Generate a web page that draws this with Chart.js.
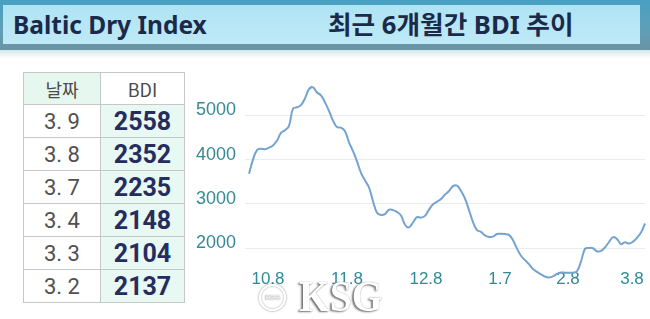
<!DOCTYPE html>
<html>
<head>
<meta charset="utf-8">
<script src="https://cdn.jsdelivr.net/npm/chart.js@4"></script>
<style>
  html, body { margin: 0; padding: 0; background: #fff; }
  #page { position: relative; width: 650px; height: 319px; overflow: hidden; background: #fff; }
  #band { position: absolute; left: 0; top: 0; width: 650px; height: 50px;
          background: linear-gradient(#48a0c2, #5f9fb8 60%, #6b93a3); }
  #panel { position: absolute; left: 3px; top: 5px; width: 637px; height: 39px;
           background: linear-gradient(#aee4f4, #bfe9f6); }
  #shade { position: absolute; left: 0; top: 50px; width: 650px; height: 8px;
           background: linear-gradient(#d3e6ea, rgba(255,255,255,0)); }
  .ttl { position: absolute; top: 9px; font-family: "Noto Sans", "Noto Sans CJK KR", sans-serif;
         font-weight: bold; font-size: 25px; line-height: 30px; color: #1c2a4a;
         transform-origin: 0 50%; white-space: nowrap; }
  #tbl { position: absolute; left: 23px; top: 72px; border-collapse: collapse; }
  #tbl td { border: 1px solid #c4c8c8; padding: 0; text-align: center; }
  #tbl .hd { height: 31px; font-family: "Noto Sans CJK KR", sans-serif; font-size: 18px; color: #4a4a4a; }
  #tbl .dt { height: 32px; font-family: Roboto, sans-serif; font-size: 22px; color: #505050; background: #fff; }
  #tbl .bv { font-family: Roboto, sans-serif; font-weight: bold; font-size: 25px; color: #262d5e; background: #e8f8f2; }
  #wrap { position: absolute; left: 190px; top: 60px; width: 460px; height: 259px; }
  #ksg { position: absolute; left: 299px; top: 275px; font-family: "Liberation Serif", serif; font-weight: bold;
         font-size: 44px; line-height: 44px; color: #fff; transform: scaleX(0.9); transform-origin: 0 50%;
         text-shadow: -2px 1px 2px rgba(70,70,70,.75), 0 0 1px rgba(60,60,60,.6); }
  #logo { position: absolute; left: 259px; top: 284px; width: 23px; height: 23px; border-radius: 50%;
          border: 2px solid #fff; box-shadow: 0 0 2px rgba(0,0,0,.6), inset 0 0 2px rgba(0,0,0,.45);
          font: bold 7px sans-serif; color: #fff; text-align: center; line-height: 23px; text-shadow: 0 0 1px #444; }
</style>
</head>
<body>
<div id="page">
  <div id="band"></div>
  <div id="panel"></div>
  <div id="shade"></div>
  <div class="ttl" id="t1" style="left:13px">Baltic Dry Index</div>
  <div class="ttl" id="t2" style="left:328px">최근 6개월간 BDI 추이</div>
  <table id="tbl"></table>
  <div id="wrap"><canvas id="bdiChart"></canvas></div>
  <div id="logo">KSG</div>
  <div id="ksg">KSG</div>
</div>
<script>
// recent values shown in the table
const tableDates = ['3. 9', '3. 8', '3. 7', '3. 4', '3. 3', '3. 2'];
const tableValues = [2558, 2352, 2235, 2148, 2104, 2137];

// BDI daily values (about 6 months, oldest first)
const bdiValues = [
  3680, 4000, 4215, 4245, 4235, 4270, 4320, 4430, 4600, 4660,
  4760, 5150, 5180, 5230, 5380, 5590, 5630, 5515, 5450, 5290,
  5100, 4880, 4735, 4720, 4640, 4390, 4190, 3960, 3700, 3530,
  3370, 3060, 2800, 2750, 2770, 2870, 2860, 2820, 2740, 2530,
  2470, 2580, 2700, 2690, 2730, 2870, 2990, 3050, 3110, 3210,
  3290, 3400, 3410, 3290, 3120, 2860, 2590, 2410, 2370, 2290,
  2255, 2260, 2320, 2325, 2320, 2300, 2180, 1990, 1830, 1730,
  1640, 1530, 1465, 1410, 1360, 1340, 1365, 1420, 1450, 1447,
  1447, 1447, 1480, 1700, 1985, 2005, 2000, 1930, 1940, 2020,
  2140, 2250, 2210, 2090, 2137, 2104, 2148, 2235, 2352, 2558
];

// x axis labels and where they sit along the series
const xLabels = ['10.8', '11.8', '12.8', '1.7', '2.8', '3.8'];
const xLabelPos = [4.75, 24.5, 44.25, 62.75, 79.75, 95.75];
const yTicks = [2000, 3000, 4000, 5000];

// fit the two header titles to their widths
function fitTitle(id, width) {
  const el = document.getElementById(id);
  el.style.transform = 'scaleX(' + (width / el.offsetWidth) + ')';
}
fitTitle('t1', 194);
fitTitle('t2', 245);

// build the table
const tbl = document.getElementById('tbl');
let html = '<tr><td class="hd" style="width:76px;background:#e6f7f0">날짜</td><td class="hd" style="width:83px">BDI</td></tr>';
tableDates.forEach((d, i) => {
  html += '<tr><td class="dt">' + d + '</td><td class="bv">' + tableValues[i] + '</td></tr>';
});
tbl.innerHTML = html;

const ctx = document.getElementById('bdiChart');
new Chart(ctx, {
  type: 'line',
  data: {
    datasets: [{
      data: bdiValues.map((v, i) => ({ x: i, y: v })),
      borderColor: '#74a3cf',
      borderWidth: 2,
      pointRadius: 0,
      tension: 0.4,
      fill: false,
      clip: false, // the low part of the line runs down between the date labels
    }],
  },
  options: {
    responsive: true,
    maintainAspectRatio: false,
    animation: false,
    layout: { padding: { top: 11, right: 5, left: 0, bottom: 0 } },
    plugins: { legend: { display: false }, tooltip: { enabled: false } },
    scales: {
      x: {
        type: 'linear',
        min: -1,
        max: 99,
        grid: { display: false },
        border: { display: false },
        afterFit: (scale) => { scale.height = 57.5; },
        afterBuildTicks: (scale) => { scale.ticks = xLabelPos.map((v) => ({ value: v })); },
        ticks: {
          autoSkip: false,
          maxRotation: 0,
          padding: 0,
          color: '#2e8a96',
          font: { family: 'Liberation Sans', size: 17 },
          callback: (val) => xLabels[xLabelPos.indexOf(val)],
        },
      },
      y: {
        min: 1700,
        max: 5800,
        grid: { color: '#e9eced', lineWidth: 1, drawTicks: false },
        border: { display: false },
        afterFit: (scale) => { scale.width = 55; },
        afterBuildTicks: (scale) => { scale.ticks = yTicks.map((v) => ({ value: v })); },
        ticks: {
          padding: 9,
          labelOffset: -5,
          color: '#358a95',
          font: { family: 'Liberation Sans', size: 18 },
          callback: (val) => String(val),
        },
      },
    },
  },
});
</script>
</body>
</html>
